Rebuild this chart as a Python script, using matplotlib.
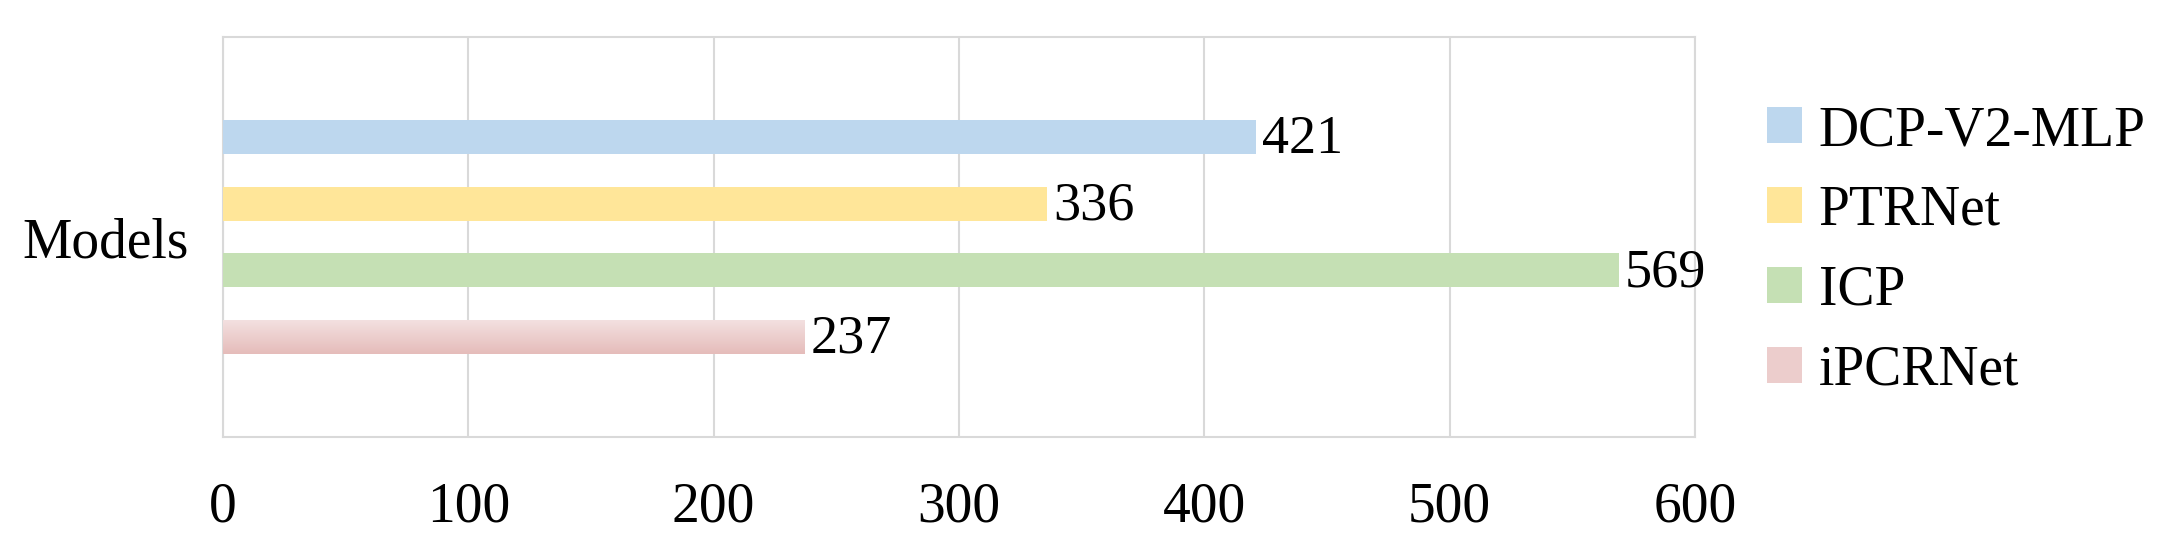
import matplotlib
matplotlib.use("Agg")
import matplotlib.pyplot as plt
import numpy as np
from matplotlib.colors import LinearSegmentedColormap
from matplotlib.patches import Patch

category = "Models"
series = ["DCP-V2-MLP", "PTRNet", "ICP", "iPCRNet"]
values = [421, 336, 569, 237]
colors = ["#BDD7EE", "#FFE699", "#C5E0B4", "#ECCDCC"]
xticks = [0, 100, 200, 300, 400, 500, 600]

plt.rcParams['font.family'] = ['Liberation Serif', 'DejaVu Serif']

fig = plt.figure(figsize=(21.59, 5.55), dpi=100)
ax = fig.add_axes([223/2159, 1-437/555, (1695-223)/2159, 400/555])

n = len(series)
ypos = np.arange(n)[::-1].astype(float)  # top bar first
bars = ax.barh(ypos, values, height=0.51, color=colors, zorder=3)

# gradient for the last (pink) bar
grad_cmap = LinearSegmentedColormap.from_list("pinkgrad", ["#E5BCBA", "#F3E0E0"])
b = bars[-1]
x0, y0 = b.get_x(), b.get_y()
w, h = b.get_width(), b.get_height()
g = np.linspace(0, 1, 100).reshape(-1, 1)
im = ax.imshow(g, cmap=grad_cmap, extent=[x0, x0 + w, y0, y0 + h], origin='lower',
               aspect='auto', zorder=3.5)
im.set_clip_path(b)

for bar, v in zip(bars, values):
    ax.text(bar.get_width() + 2.5, bar.get_y() + bar.get_height()/2 - 0.04, str(v),
            va='center', ha='left', fontsize=39, zorder=5)

ax.set_xlim(0, 600)
ax.set_ylim(ypos.min() - 1.5, ypos.max() + 1.5)
ax.set_xticks(xticks)
ax.set_xticklabels([str(t) for t in xticks], fontsize=40)
ax.set_yticks([ypos.mean()])
ax.set_yticklabels([category], fontsize=40)
ax.tick_params(axis='x', length=0, pad=32)
ax.tick_params(axis='y', length=0, pad=25)
ax.grid(axis='x', color='#D9D9D9', linewidth=1.5, zorder=0)
for s in ax.spines.values():
    s.set_color('#D9D9D9')
    s.set_linewidth(1.5)

handles = [Patch(facecolor=c, edgecolor='none') for c in colors]
fig.legend(handles, series, loc='upper left', bbox_to_anchor=(1767/2159, 1-105/555),
           frameon=False, fontsize=40, handlelength=0.63, handleheight=0.62,
           handletextpad=0.3, labelspacing=0.5, borderpad=0, borderaxespad=0)

fig.savefig("out.png", dpi=100)
